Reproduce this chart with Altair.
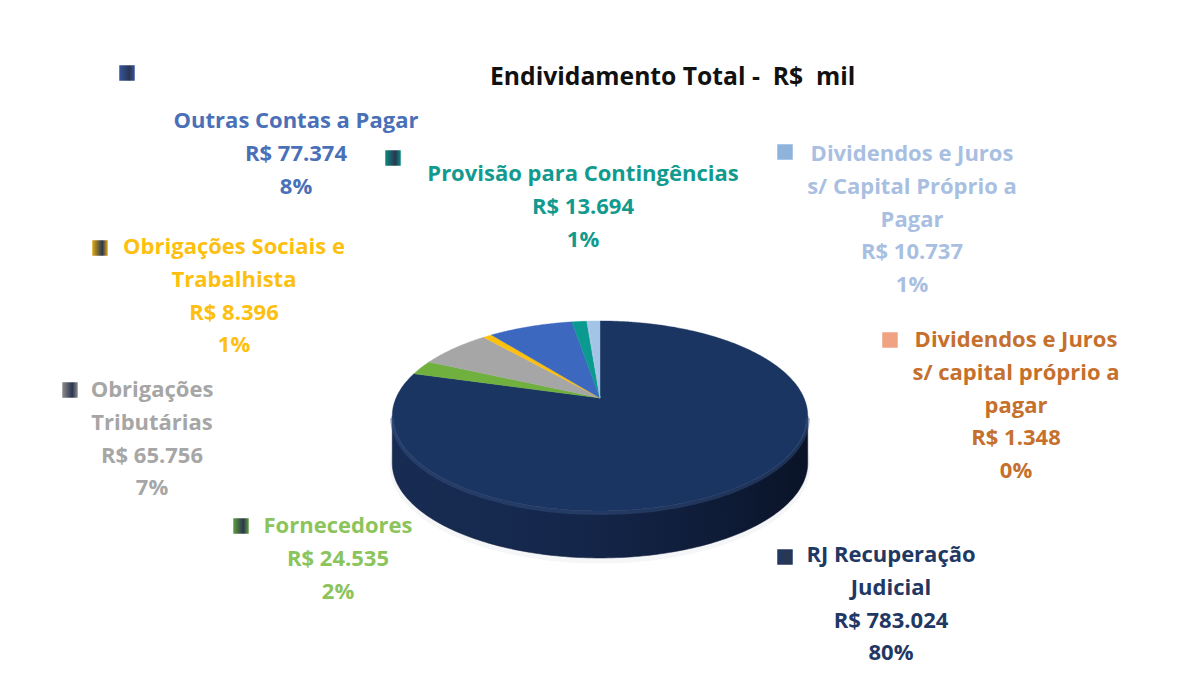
import numpy as np
import altair as alt

categories = ["RJ Recuperação Judicial", "Fornecedores", "Obrigações Tributárias",
              "Obrigações Sociais e Trabalhista", "Outras Contas a Pagar",
              "Provisão para Contingências", "Dividendos e Juros s/ capital próprio a pagar",
              "Dividendos e Juros s/ Capital Próprio a Pagar"]
values = [783024, 24535, 65756, 8396, 77374, 13694, 1348, 10737]
value_labels = ["R$ 783.024", "R$ 24.535", "R$ 65.756", "R$ 8.396", "R$ 77.374", "R$ 13.694", "R$ 1.348", "R$ 10.737"]
percent_labels = ["80%", "2%", "7%", "1%", "8%", "1%", "0%", "1%"]
name_lines = [["RJ Recuperação", "Judicial"], ["Fornecedores"], ["Obrigações", "Tributárias"],
              ["Obrigações Sociais e", "Trabalhista"], ["Outras Contas a Pagar"],
              ["Provisão para Contingências"], ["Dividendos e Juros", "s/ capital próprio a", "pagar"],
              ["Dividendos e Juros", "s/ Capital Próprio a", "Pagar"]]
slice_colors = ["#1b3563", "#6fb03f", "#a6a6a6", "#fdbf10", "#3c68bf", "#0a9a90", "#a3c4e6", "#a3c4e6"]
square_colors = ["#1f3864", "#5f9e3a", "#8c8c8c", "#e0a810", "#34559f", "#0b8a80", "#f0a283", "#8fb4dc"]
text_colors = ["#1f3864", "#8cc45c", "#a6a6a6", "#fdc010", "#4a70b8", "#129a8e", "#c5702c", "#a9bfe2"]
title_text = "Endividamento Total -\u00a0 R$\u00a0 mil"

W, H = 1183, 673
CX, CY = 600 - 8, 398 - 8
A, B, K, DEPTH = 204.0, 91.6, 0.189, 47.0


def rim(theta_deg):
    t = np.radians(theta_deg)
    u, v = np.sin(t), np.cos(t)
    d = 1 + K * v
    return CX + A * u / d, CY - B * v / d


def ring(pts):
    pts = [[float(x), float(y)] for x, y in pts]
    return {"type": "Polygon", "coordinates": [pts + [pts[0]]]}


fractions = np.array(values) / sum(values)
edges = np.concatenate([[0], np.cumsum(fractions)]) * 360
slices = []
for i, c in enumerate(slice_colors):
    ts = np.arange(edges[i], edges[i + 1], 0.5).tolist() + [edges[i + 1]]
    xs, ys = rim(np.array(ts))
    slices.append({"type": "Feature", "geometry": ring([(CX, CY)] + list(zip(xs, ys))), "color": c})

ts = np.arange(0, 360, 1.0)
xs, ys = rim(ts)
i_r, i_l = int(np.argmax(xs)), int(np.argmin(xs))
fx, fy = xs[i_r:i_l + 1], ys[i_r:i_l + 1]
wall = {"type": "Feature", "geometry": ring(list(zip(fx, fy)) + list(zip(fx[::-1], fy[::-1] + DEPTH)))}
bevel = {"type": "Feature", "geometry": {"type": "LineString",
         "coordinates": [[float(x), float(y) + 2] for x, y in zip(fx, fy)]}}
shadow = {"type": "Feature", "geometry": ring(list(zip(xs, ys + DEPTH + 3)))}


def geo(feature_list, **mark):
    return alt.Chart(alt.Data(values=feature_list)).mark_geoshape(**mark).project(type="identity", scale=1, translate=[0, 0])


wall_fill = alt.LinearGradient(gradient="linear", x1=0, x2=1, y1=0, y2=0, stops=[
    alt.GradientStop(color="#182c53", offset=0), alt.GradientStop(color="#14264a", offset=0.45),
    alt.GradientStop(color="#0e1b36", offset=0.8), alt.GradientStop(color="#0a1327", offset=1)])

layers = [
    geo([shadow], fill="#d9dde3", stroke="#eef0f3", strokeWidth=5, opacity=0.55),
    geo([wall], fill=wall_fill, stroke="#121f3d", strokeWidth=0.5),
    geo(slices, strokeWidth=0.4).encode(color=alt.Color("color:N", scale=None, legend=None),
                                         stroke=alt.Stroke("color:N", scale=None, legend=None)),
    geo([bevel], filled=False, stroke="#34507f", strokeWidth=4, opacity=0.5),
]

label_xy = [(891, 545), (338, 516), (152, 380), (234, 237), (296, 111), (583, 164), (1016, 330), (912, 144)]
square_xy = [(785, 557), (241, 526), (70, 390), (100, 248), (127, 73), (393, 158), (890, 340), (785, 152)]
LINE = 32.8
for i in range(len(categories)):
    lines = name_lines[i] + [value_labels[i], percent_labels[i]]
    x, y = label_xy[i]
    layers.append(alt.Chart(alt.Data(values=[{"t": lines}])).mark_text(
        font="Open Sans", fontSize=22, fontWeight="bold", align="center", baseline="top",
        lineHeight=LINE, color=text_colors[i]).encode(
        text="t:N", x=alt.value(x - 8), y=alt.value(y - 8)))
    sx, sy = square_xy[i]
    sq = alt.LinearGradient(gradient="linear", x1=0, x2=1, y1=0, y2=0, stops=[
        alt.GradientStop(color=square_colors[i], offset=0), alt.GradientStop(color="#2a3650" if i not in (6, 7) else square_colors[i], offset=0.65),
        alt.GradientStop(color=square_colors[i], offset=1)])
    layers.append(alt.Chart(alt.Data(values=[{"c": categories[i]}])).mark_square(size=240, fill=sq, opacity=1).encode(
        x=alt.value(sx - 8), y=alt.value(sy - 8)))

layers.append(alt.Chart(alt.Data(values=[{"t": title_text}])).mark_text(
    font="Open Sans", fontSize=24.7, fontWeight="bold", align="left", baseline="middle", color="#111111").encode(
    text="t:N", x=alt.value(490 - 8), y=alt.value(78 - 8)))

chart = alt.layer(*layers).properties(width=W, height=H, padding=0, background="white", autosize="none").configure_view(stroke=None)
chart.save("out.html", embed_options={"renderer": "svg", "actions": False})
